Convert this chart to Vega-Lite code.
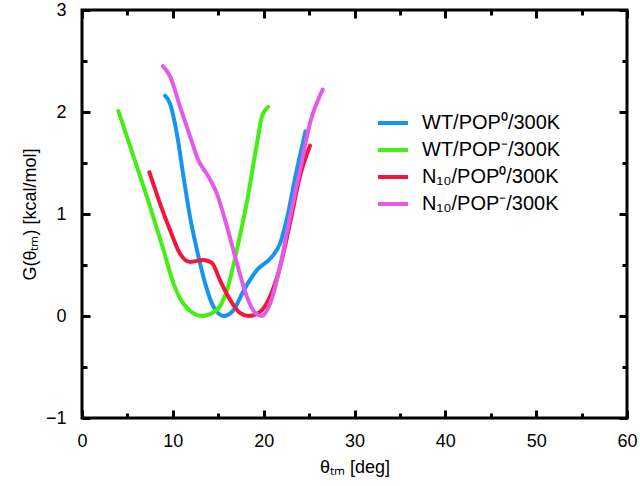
{
  "$schema": "https://vega.github.io/schema/vega-lite/v6.json",
  "width": 545,
  "height": 408,
  "autosize": "none",
  "padding": {"left": 82, "top": 10, "right": 13, "bottom": 68},
  "background": "white",
  "config": {
    "view": {"stroke": "black", "strokeWidth": 3},
    "font": "Liberation Sans",
    "axis": {"grid": false, "domain": false, "ticks": true, "zindex": 1, "tickColor": "black", "tickWidth": 3, "labelColor": "black", "titleColor": "black", "labelFontSize": 18, "titleFontSize": 18, "titleFontWeight": "normal", "labelFont": "Liberation Sans", "titleFont": "Liberation Sans"}
  },
  "data": {"values": [
    {"s": "WT/POP⁰/300K", "x": 9.15, "y": 2.16},
    {"s": "WT/POP⁰/300K", "x": 9.7, "y": 2.08},
    {"s": "WT/POP⁰/300K", "x": 10.44, "y": 1.79},
    {"s": "WT/POP⁰/300K", "x": 11.17, "y": 1.37},
    {"s": "WT/POP⁰/300K", "x": 11.9, "y": 0.97},
    {"s": "WT/POP⁰/300K", "x": 12.65, "y": 0.65},
    {"s": "WT/POP⁰/300K", "x": 13.56, "y": 0.32},
    {"s": "WT/POP⁰/300K", "x": 14.48, "y": 0.09},
    {"s": "WT/POP⁰/300K", "x": 15.6, "y": 0.0},
    {"s": "WT/POP⁰/300K", "x": 16.7, "y": 0.06},
    {"s": "WT/POP⁰/300K", "x": 17.8, "y": 0.25},
    {"s": "WT/POP⁰/300K", "x": 19.26, "y": 0.45},
    {"s": "WT/POP⁰/300K", "x": 20.9, "y": 0.58},
    {"s": "WT/POP⁰/300K", "x": 21.8, "y": 0.71},
    {"s": "WT/POP⁰/300K", "x": 22.6, "y": 0.97},
    {"s": "WT/POP⁰/300K", "x": 23.5, "y": 1.37},
    {"s": "WT/POP⁰/300K", "x": 24.6, "y": 1.81},
    {"s": "WT/POP⁻/300K", "x": 4.0, "y": 2.01},
    {"s": "WT/POP⁻/300K", "x": 6.4, "y": 1.37},
    {"s": "WT/POP⁻/300K", "x": 7.5, "y": 1.07},
    {"s": "WT/POP⁻/300K", "x": 8.96, "y": 0.65},
    {"s": "WT/POP⁻/300K", "x": 10.07, "y": 0.32},
    {"s": "WT/POP⁻/300K", "x": 11.17, "y": 0.12},
    {"s": "WT/POP⁻/300K", "x": 13.2, "y": 0.0},
    {"s": "WT/POP⁻/300K", "x": 14.85, "y": 0.06},
    {"s": "WT/POP⁻/300K", "x": 15.95, "y": 0.25},
    {"s": "WT/POP⁻/300K", "x": 17.05, "y": 0.65},
    {"s": "WT/POP⁻/300K", "x": 18.2, "y": 1.14},
    {"s": "WT/POP⁻/300K", "x": 19.26, "y": 1.69},
    {"s": "WT/POP⁻/300K", "x": 19.8, "y": 1.95},
    {"s": "WT/POP⁻/300K", "x": 20.5, "y": 2.05},
    {"s": "N₁₀/POP⁰/300K", "x": 7.42, "y": 1.41},
    {"s": "N₁₀/POP⁰/300K", "x": 8.6, "y": 1.1},
    {"s": "N₁₀/POP⁰/300K", "x": 9.7, "y": 0.84},
    {"s": "N₁₀/POP⁰/300K", "x": 10.8, "y": 0.61},
    {"s": "N₁₀/POP⁰/300K", "x": 11.9, "y": 0.53},
    {"s": "N₁₀/POP⁰/300K", "x": 13.37, "y": 0.55},
    {"s": "N₁₀/POP⁰/300K", "x": 14.3, "y": 0.52},
    {"s": "N₁₀/POP⁰/300K", "x": 15.2, "y": 0.35},
    {"s": "N₁₀/POP⁰/300K", "x": 16.3, "y": 0.16},
    {"s": "N₁₀/POP⁰/300K", "x": 17.4, "y": 0.03},
    {"s": "N₁₀/POP⁰/300K", "x": 18.3, "y": 0.0},
    {"s": "N₁₀/POP⁰/300K", "x": 19.6, "y": 0.04},
    {"s": "N₁₀/POP⁰/300K", "x": 20.7, "y": 0.19},
    {"s": "N₁₀/POP⁰/300K", "x": 21.8, "y": 0.48},
    {"s": "N₁₀/POP⁰/300K", "x": 22.9, "y": 0.91},
    {"s": "N₁₀/POP⁰/300K", "x": 24.0, "y": 1.37},
    {"s": "N₁₀/POP⁰/300K", "x": 25.1, "y": 1.67},
    {"s": "N₁₀/POP⁻/300K", "x": 8.9, "y": 2.45},
    {"s": "N₁₀/POP⁻/300K", "x": 9.7, "y": 2.35},
    {"s": "N₁₀/POP⁻/300K", "x": 10.8, "y": 2.05},
    {"s": "N₁₀/POP⁻/300K", "x": 11.9, "y": 1.76},
    {"s": "N₁₀/POP⁻/300K", "x": 12.8, "y": 1.53},
    {"s": "N₁₀/POP⁻/300K", "x": 13.9, "y": 1.37},
    {"s": "N₁₀/POP⁻/300K", "x": 14.85, "y": 1.2},
    {"s": "N₁₀/POP⁻/300K", "x": 15.95, "y": 0.88},
    {"s": "N₁₀/POP⁻/300K", "x": 17.05, "y": 0.52},
    {"s": "N₁₀/POP⁻/300K", "x": 18.15, "y": 0.19},
    {"s": "N₁₀/POP⁻/300K", "x": 19.07, "y": 0.03},
    {"s": "N₁₀/POP⁻/300K", "x": 19.8, "y": 0.0},
    {"s": "N₁₀/POP⁻/300K", "x": 20.7, "y": 0.12},
    {"s": "N₁₀/POP⁻/300K", "x": 21.8, "y": 0.48},
    {"s": "N₁₀/POP⁻/300K", "x": 22.9, "y": 0.97},
    {"s": "N₁₀/POP⁻/300K", "x": 24.0, "y": 1.43},
    {"s": "N₁₀/POP⁻/300K", "x": 25.1, "y": 1.89},
    {"s": "N₁₀/POP⁻/300K", "x": 26.5, "y": 2.22}
  ]},
  "layer": [
    {
      "mark": {"type": "line", "interpolate": "monotone", "strokeWidth": 4, "strokeCap": "round", "clip": true},
      "encoding": {
        "x": {"field": "x", "type": "quantitative", "scale": {"domain": [0, 60], "nice": false, "zero": false},
          "axis": {"orient": "bottom", "title": "θₜₘ [deg]", "values": [0, 10, 20, 30, 40, 50, 60], "format": "d",
            "tickSize": -8, "labelPadding": 22, "titlePadding": 8, "labelFlush": false}},
        "y": {"field": "y", "type": "quantitative", "scale": {"domain": [-1, 3], "nice": false, "zero": false},
          "axis": {"orient": "left", "title": "G(θₜₘ) [kcal/mol]", "values": [-1, 0, 1, 2, 3], "format": "d",
            "tickSize": -8, "labelPadding": 24, "titlePadding": 6, "labelFlush": false}},
        "color": {"field": "s", "type": "nominal",
          "scale": {"domain": ["WT/POP⁰/300K", "WT/POP⁻/300K", "N₁₀/POP⁰/300K", "N₁₀/POP⁻/300K"], "range": ["#1496ee", "#44f014", "#f5143c", "#e45ae8"]},
          "legend": {"title": null, "orient": "none", "legendX": 294, "legendY": 96, "symbolType": "stroke", "symbolStrokeWidth": 4, "symbolSize": 900, "labelFontSize": 20, "labelColor": "black", "rowPadding": 0, "labelOffset": 12, "labelFont": "Liberation Sans"}}
      }
    },
    {
      "mark": {"type": "point", "opacity": 0},
      "encoding": {
        "x": {"field": "x", "type": "quantitative",
          "axis": {"orient": "top", "title": null, "labels": false, "values": [0, 10, 20, 30, 40, 50, 60], "tickSize": -8}},
        "y": {"field": "y", "type": "quantitative",
          "axis": {"orient": "right", "title": null, "labels": false, "values": [-1, 0, 1, 2, 3], "tickSize": -8}}
      }
    },
    {
      "mark": {"type": "point", "opacity": 0},
      "encoding": {
        "x": {"field": "x", "type": "quantitative",
          "axis": {"orient": "bottom", "title": null, "labels": false, "values": [5, 15, 25, 35, 45, 55], "tickSize": -5}},
        "y": {"field": "y", "type": "quantitative",
          "axis": {"orient": "left", "title": null, "labels": false, "values": [-0.5, 0.5, 1.5, 2.5], "tickSize": -5}}
      }
    },
    {
      "mark": {"type": "point", "opacity": 0},
      "encoding": {
        "x": {"field": "x", "type": "quantitative",
          "axis": {"orient": "top", "title": null, "labels": false, "values": [5, 15, 25, 35, 45, 55], "tickSize": -5}},
        "y": {"field": "y", "type": "quantitative",
          "axis": {"orient": "right", "title": null, "labels": false, "values": [-0.5, 0.5, 1.5, 2.5], "tickSize": -5}}
      }
    }
  ],
  "resolve": {"axis": {"x": "independent", "y": "independent"}}
}
